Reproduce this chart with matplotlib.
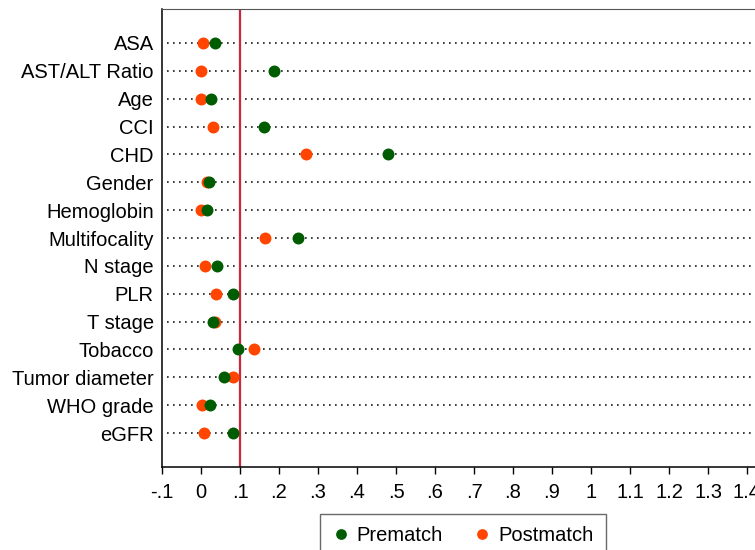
import matplotlib
matplotlib.use("Agg")
import matplotlib.pyplot as plt

plt.rcParams['font.family'] = ['Liberation Sans', 'DejaVu Sans']

# covariates, top to bottom
covariates = ['ASA', 'AST/ALT Ratio', 'Age', 'CCI', 'CHD', 'Gender', 'Hemoglobin',
              'Multifocality', 'N stage', 'PLR', 'T stage', 'Tobacco',
              'Tumor diameter', 'WHO grade', 'eGFR']
# standardized differences
prematch = [0.037, 0.186, 0.026, 0.162, 0.480, 0.020, 0.015,
            0.249, 0.041, 0.083, 0.030, 0.095, 0.059, 0.022, 0.081]
postmatch = [0.006, 0.001, 0.000, 0.032, 0.268, 0.015, 0.001,
             0.165, 0.011, 0.039, 0.036, 0.137, 0.082, 0.002, 0.008]
xticks = [-0.1, 0, 0.1, 0.2, 0.3, 0.4, 0.5, 0.6, 0.7, 0.8, 0.9, 1.0,
          1.1, 1.2, 1.3, 1.4, 1.5]
xticklabels = ['-.1', '0', '.1', '.2', '.3', '.4', '.5', '.6', '.7', '.8', '.9', '1',
               '1.1', '1.2', '1.3', '1.4', '1.5']
threshold = 0.1

fig = plt.figure(figsize=(7.55, 5.5), dpi=100)
# axes runs past the right edge of the figure, like the cropped original
ax = fig.add_axes([162/755, 1 - 467/550, (786 - 162)/755, (467 - 9)/550])

n = len(covariates)
ypos = list(range(n, 0, -1))

for y in ypos:
    ax.plot([-0.088, 1.5], [y, y], color='#1a1a1a', lw=1.2,
            linestyle=(0, (1, 2.6)), zorder=1)

ax.axvline(threshold, color='#c8283c', lw=1.6, zorder=2)

ax.plot(postmatch, ypos, 'o', color='#ff4500', ms=8.6, mew=0, zorder=3,
        label='Postmatch')
ax.plot(prematch, ypos, 'o', color='#005c00', ms=8.6, mew=0, zorder=4,
        label='Prematch')

ax.set_xlim(-0.1, 1.5)
ax.set_ylim(-0.22, n + 1.22)
ax.set_yticks(ypos)
ax.set_yticklabels(covariates, fontsize=14.5)
ax.tick_params(axis='y', length=0, pad=6)
ax.set_xticks(xticks)
ax.set_xticklabels(xticklabels, fontsize=14.5)
ax.tick_params(axis='x', length=5.2, width=1.0, direction='out', pad=6)

ax.spines['right'].set_visible(False)
ax.spines['top'].set_color('#555555')
for s in ['left', 'bottom']:
    ax.spines[s].set_color('black')
    ax.spines[s].set_linewidth(1.1)

h, l = ax.get_legend_handles_labels()
leg = fig.legend(h[::-1], l[::-1], loc='upper center',
                 bbox_to_anchor=(463/755, 1 - 514/550), borderaxespad=0,
                 ncol=2, fontsize=14.5, frameon=True, fancybox=False,
                 edgecolor='#444444', handlelength=0.8, handletextpad=0.4,
                 columnspacing=1.55, markerscale=0.9, borderpad=0.6)
leg.get_frame().set_linewidth(1.0)

fig.savefig('out.png', dpi=100)
